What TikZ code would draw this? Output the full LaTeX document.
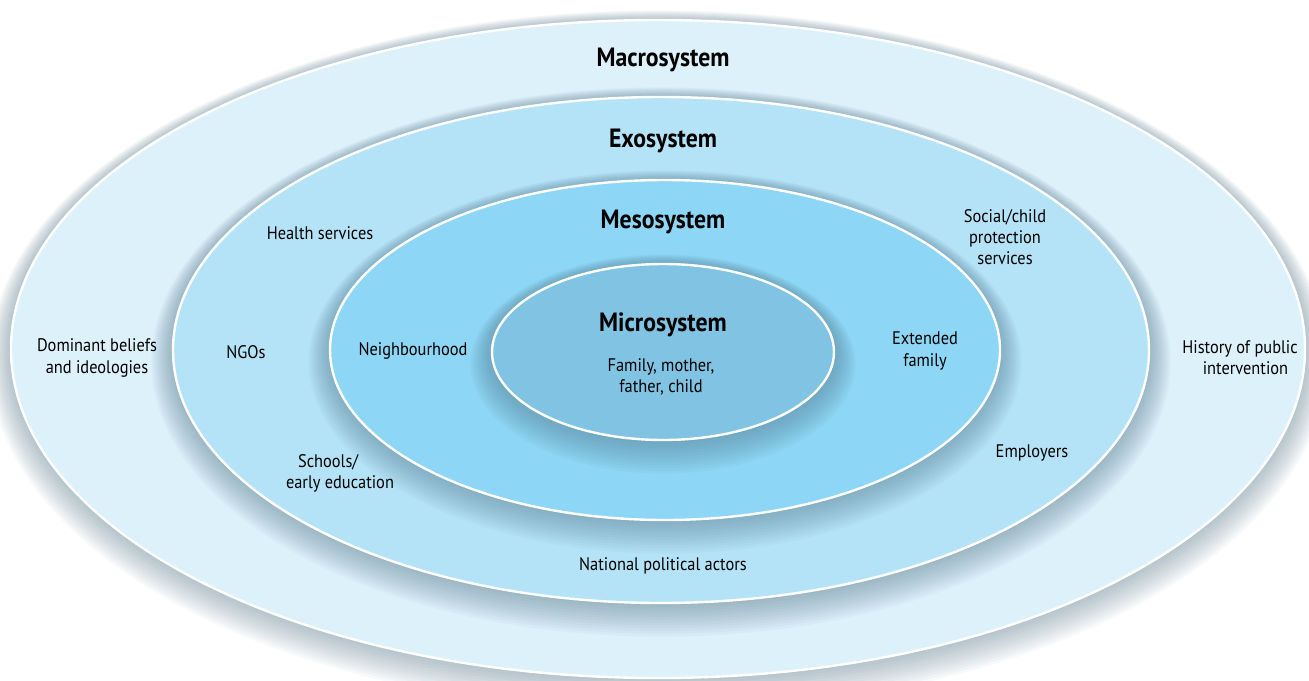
\documentclass[tikz,border=0pt]{standalone}
\usepackage{fontspec}
\setmainfont{PT Sans}[FakeStretch=0.9]
\definecolor{macroC}{HTML}{DDF1FB}
\definecolor{exoC}{HTML}{B4E3F8}
\definecolor{mesoC}{HTML}{8DD6F5}
\definecolor{microC}{HTML}{80C3E2}
\definecolor{shadowC}{HTML}{4F7184}
\tikzset{
  ring/.style={fill=#1, draw=white, line width=1.2pt},
  title/.style={font=\fontsize{13.2}{15}\selectfont\bfseries, text=black},
  lbl/.style={font=\fontsize{9.1}{10.6}\selectfont, text=black, align=center},
}
\newcommand{\shadowring}[4]{% cx cy rx ry (in px)
  \foreach \i in {1,...,12}{
    \fill[shadowC, opacity=0.045] ({#1},{#2+1.0*\i}) ellipse [x radius={(#3+1.8*\i)*0.5pt}, y radius={(#4+1.8*\i)*0.5pt}];
  }
}
\begin{document}
\begin{tikzpicture}[x=0.5pt,y=-0.5pt]
\useasboundingbox (0,0) rectangle (1309,680);
% Macrosystem
\shadowring{658}{349}{647}{329}
\path[ring=macroC] (658,349) coordinate (macro) ellipse [x radius=323.5pt, y radius=164.5pt];
% Exosystem
\shadowring{661}{350}{488}{253}
\path[ring=exoC] (661,350) coordinate (exo) ellipse [x radius=244pt, y radius=126.5pt];
% Mesosystem
\shadowring{665}{350}{335}{170}
\path[ring=mesoC] (665,350) coordinate (meso) ellipse [x radius=167.5pt, y radius=85pt];
% Microsystem
\shadowring{663}{352}{171}{88}
\path[ring=microC] (663,352) coordinate (micro) ellipse [x radius=85.5pt, y radius=44pt];

\node[title] (tmacro) at (663,60) {Macrosystem};
\node[title] (texo) at (663,141) {Exosystem};
\node[title] (tmeso) at (663,222) {Mesosystem};
\node[title] (tmicro) at (663,325) {Microsystem};
\node[lbl] (family) at (661,377) {Family, mother,\\father, child};

\node[lbl] (health) at (320,233) {Health services};
\node[lbl] (social) at (1005,237) {Social/child\\protection\\services};
\node[lbl] (beliefs) at (97,358) {Dominant beliefs\\and ideologies};
\node[lbl] (ngos) at (246,352) {NGOs};
\node[lbl] (neigh) at (413,351) {Neighbourhood};
\node[lbl] (ext) at (925,351) {Extended\\family};
\node[lbl] (history) at (1240,358) {History of public\\\hspace*{0.6em}intervention};
\node[lbl] (schools) at (340,473) {\hspace*{-1.3em}Schools/\\early education};
\node[lbl] (employers) at (1032,453) {Employers};
\node[lbl] (national) at (663,566) {National political actors};
\end{tikzpicture}
\end{document}
